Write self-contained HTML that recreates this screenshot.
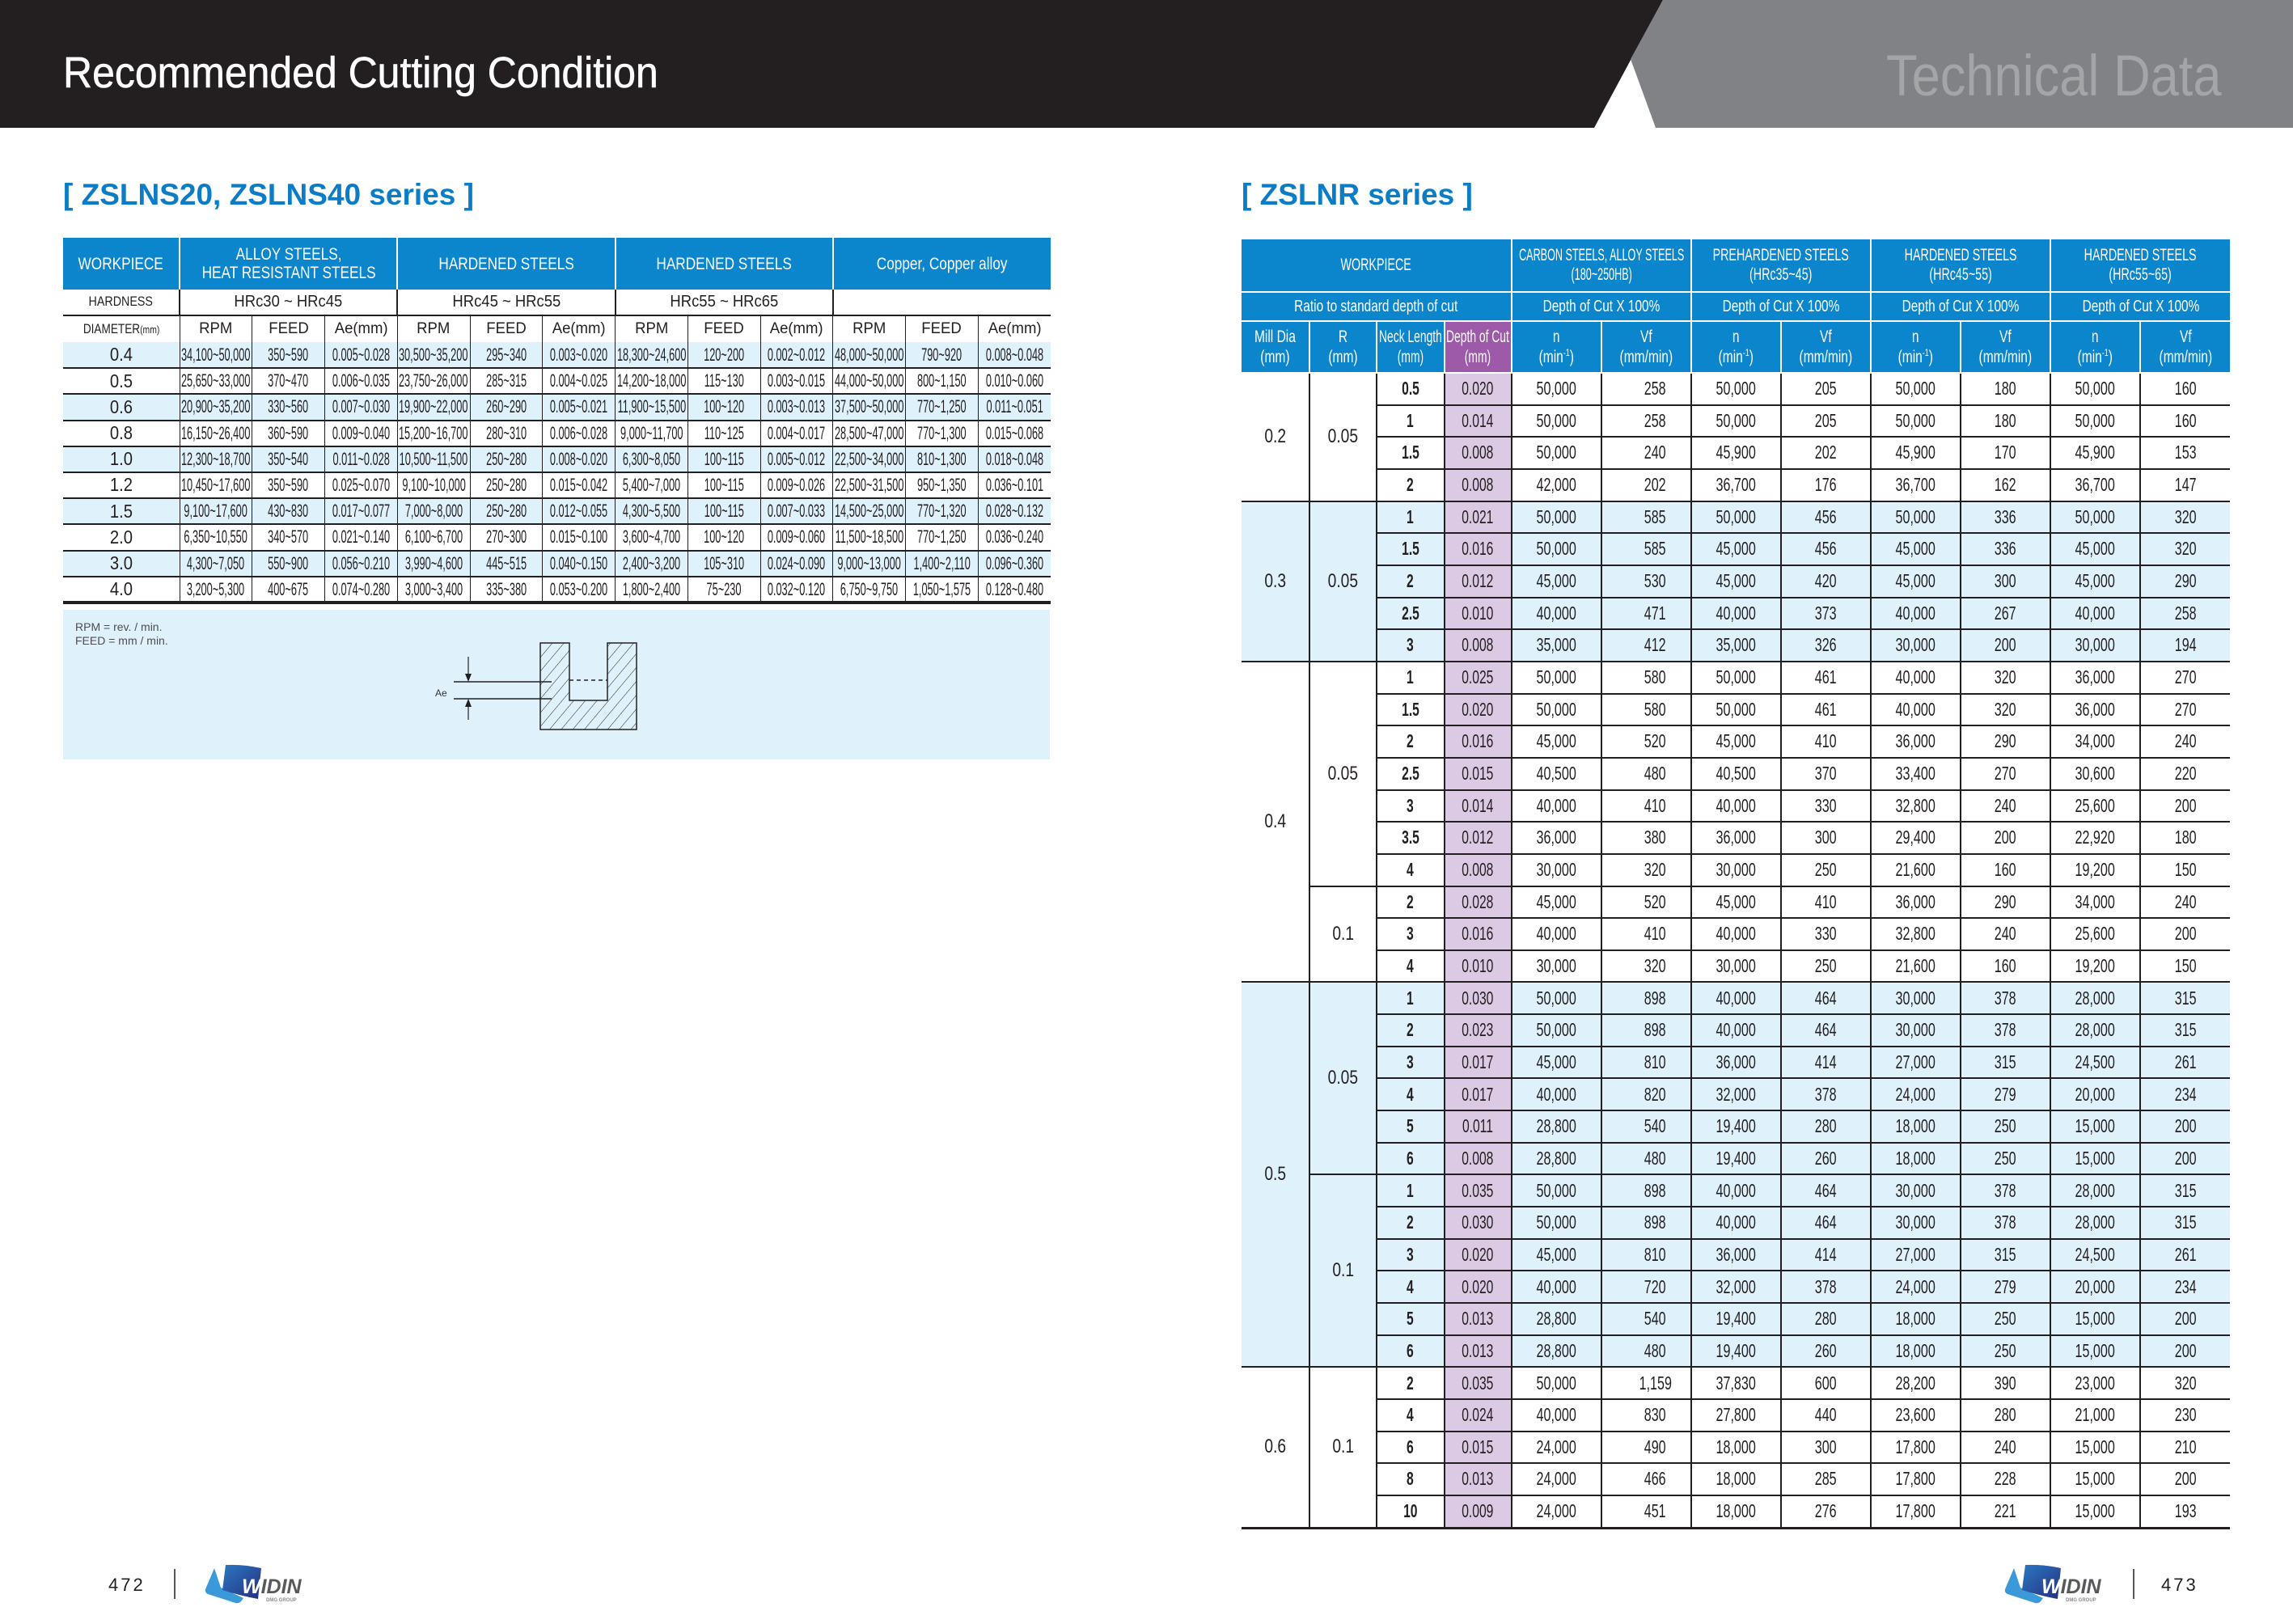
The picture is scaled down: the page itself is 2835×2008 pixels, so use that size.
<!DOCTYPE html>
<html><head><meta charset="utf-8">
<style>
*{margin:0;padding:0;box-sizing:border-box}
body{width:2835px;height:2008px;position:relative;background:#fff;font-family:"Liberation Sans",Arial,sans-serif;color:#231f20;overflow:hidden}
.abs{position:absolute}
i{font-style:normal;display:inline-block;white-space:nowrap;margin:0 -80px;transform:scaleX(var(--s,1))}
table{border-collapse:collapse;table-layout:fixed;position:absolute}
td{padding:0;text-align:center;vertical-align:middle;white-space:nowrap;overflow:visible;border:0}
sup{font-size:12px;line-height:0;vertical-align:8px}
/* left table */
#lt td{font-size:22px;--s:.58;line-height:1.1}
#lt .h1 td{background:#0b86cc;color:#fff;font-size:21px;--s:.82;line-height:23px;border-left:2px solid #fff}
#lt .h1 td:first-child{border-left:0}
#lt .h2 td{font-size:20.5px;--s:.9;border-left:2px solid #231f20;border-bottom:2px solid #231f20}
#lt .h2 td:first-child{border-left:0;font-size:17px;--s:.84}
#lt .h3 td{font-size:19.5px;--s:.95;border-left:1.5px solid #231f20}
#lt .h3 td:first-child{border-left:0;font-size:17px;--s:.8}
#lt .dt td{border-left:1.5px solid #231f20;border-bottom:2px solid #231f20}
#lt .dt td:first-child{border-left:0;font-size:23px;--s:.88}
#lt .dt tr.b td{background:#dff2fc}
#lt .dt tr{height:32.2px}
/* right table */
#rt td{font-size:23px;--s:.7;line-height:1.1}
#rt .hd td{background:#0b86cc;color:#fff;border-left:2px solid #fff;border-bottom:2px solid #fff;font-size:21px}
#rt .hd td:first-child{border-left:0}
#rt .h1 td{--s:.68;line-height:24px}
#rt .h1 td.cs{--s:.6}
#rt .h2 td{font-size:20px;--s:.77}
#rt .h3 td{--s:.74;line-height:25px}
#rt .h3 td.nl{--s:.66}
#rt .h3 td.pp{background:#9d5aa8;--s:.66}
#rt .dt td{border-left:2px solid #231f20;border-bottom:2px solid #231f20}
#rt .dt td.m{border-left:0;font-size:24px;--s:.8}
#rt .dt td.r{font-size:24px;--s:.8}
#rt .dt td.k{font-weight:bold;--s:.68}
#rt .dt td.p{background:#dccae4;--s:.68}
#rt .dt td.v{padding-left:22px}
#rt .dt tr.b td{background:#dff2fc}
#rt .dt tr.b td.p{background:#dccae4}
#rt .dt tr{height:39.67px}
</style></head>
<body>
<svg class="abs" style="left:0;top:0" width="2835" height="2008">
<defs>
<pattern id="hat" width="11" height="11" patternUnits="userSpaceOnUse" patternTransform="rotate(40)"><line x1="0" y1="0" x2="0" y2="11" stroke="#231f20" stroke-width="1"/></pattern>
<linearGradient id="lg" x1="0" y1="0" x2="1" y2="1"><stop offset="0" stop-color="#2a78c4"/><stop offset="1" stop-color="#262f7c"/></linearGradient>
<linearGradient id="lg2" x1="0" y1="0" x2="1" y2="1"><stop offset="0" stop-color="#2a78c4"/><stop offset="1" stop-color="#262f7c"/></linearGradient>
</defs>
<polygon points="0,0 2056,0 1971,158 0,158" fill="#231f20"/>
<polygon points="2056,0 2835,0 2835,158 2047,158 2016,73" fill="#808285"/>
<rect x="78" y="754" width="1220" height="185" fill="#dff2fc"/>
<path d="M668,795 H704 V866 H751 V795 H787 V902 H668 Z" fill="url(#hat)" stroke="#231f20" stroke-width="1.5"/>
<line x1="704" y1="841" x2="751" y2="841" stroke="#231f20" stroke-width="1.5" stroke-dasharray="5,4"/>
<line x1="561" y1="843" x2="682" y2="843" stroke="#231f20" stroke-width="1.5"/>
<line x1="561" y1="864" x2="682" y2="864" stroke="#231f20" stroke-width="1.5"/>
<line x1="579" y1="812" x2="579" y2="836" stroke="#231f20" stroke-width="1.2"/>
<polygon points="575,833 583,833 579,843" fill="#231f20"/>
<line x1="579" y1="871" x2="579" y2="890" stroke="#231f20" stroke-width="1.2"/>
<polygon points="575,874 583,874 579,864" fill="#231f20"/>
<text x="538" y="861" font-size="12" fill="#333" font-family="Liberation Sans, sans-serif">Ae</text>
<line x1="216" y1="1940" x2="216" y2="1977" stroke="#231f20" stroke-width="1.5"/>
<line x1="2638" y1="1940" x2="2638" y2="1977" stroke="#231f20" stroke-width="1.5"/>
<g transform="translate(253,1933)">
<path d="M12,6 L1,32 Q0,36 4,38 L38,49 Q42,50 45,47 L48,43 L20,30 Z" fill="#3a9ad9"/>
<path d="M26,2 Q48,1 70,6 L66,44 Q44,40 22,33 Z" fill="url(#lg)"/>
<text x="46" y="37" font-size="25" font-weight="bold" font-style="italic" fill="#58595b" font-family="Liberation Sans, sans-serif"><tspan fill="#ffffff">W</tspan>IDIN</text>
<text x="76" y="47" font-size="6" font-weight="bold" fill="#8a8c8e" font-family="Liberation Sans, sans-serif">DMG GROUP</text>
</g>
<g transform="translate(2478,1933)">
<path d="M12,6 L1,32 Q0,36 4,38 L38,49 Q42,50 45,47 L48,43 L20,30 Z" fill="#3a9ad9"/>
<path d="M26,2 Q48,1 70,6 L66,44 Q44,40 22,33 Z" fill="url(#lg2)"/>
<text x="46" y="37" font-size="25" font-weight="bold" font-style="italic" fill="#58595b" font-family="Liberation Sans, sans-serif"><tspan fill="#ffffff">W</tspan>IDIN</text>
<text x="76" y="47" font-size="6" font-weight="bold" fill="#8a8c8e" font-family="Liberation Sans, sans-serif">DMG GROUP</text>
</g>
</svg>

<div class="abs" style="left:78px;top:63px;font-size:54px;line-height:54px;color:#fff;transform:scaleX(.925);transform-origin:0 0;white-space:nowrap;-webkit-text-stroke:0.6px #fff">Recommended Cutting Condition</div>
<div class="abs" style="left:2332px;top:59px;font-size:71px;line-height:71px;color:#a3a5a7;transform:scaleX(.89);transform-origin:0 0;white-space:nowrap">Technical Data</div>

<div class="abs" style="left:78px;top:222px;font-size:37px;line-height:37px;font-weight:bold;color:#0b7dc6;white-space:nowrap">[ ZSLNS20, ZSLNS40 series ]</div>
<div class="abs" style="left:1535px;top:222px;font-size:37px;line-height:37px;font-weight:bold;color:#0b7dc6;white-space:nowrap">[ ZSLNR series ]</div>

<div class="abs" style="left:93px;top:767px;font-size:14px;line-height:17px;color:#4d4d4f;white-space:nowrap">RPM = rev. / min.<br>FEED = mm / min.</div>

<div class="abs" style="left:134px;top:1949px;font-size:22px;line-height:22px;letter-spacing:3px;color:#231f20">472</div>
<div class="abs" style="left:2672px;top:1949px;font-size:22px;line-height:22px;letter-spacing:3px;color:#231f20">473</div>

<table id="lt" style="left:78px;top:294px;width:1221px">
<colgroup><col style="width:144px"><col span="12" style="width:89.75px"></colgroup>
<tbody>
<tr class="h1" style="height:64px"><td><i>WORKPIECE</i></td><td colspan="3"><i>ALLOY STEELS,<br>HEAT RESISTANT STEELS</i></td><td colspan="3"><i>HARDENED STEELS</i></td><td colspan="3"><i>HARDENED STEELS</i></td><td colspan="3"><i>Copper, Copper alloy</i></td></tr>
<tr class="h2" style="height:32px"><td><i>HARDNESS</i></td><td colspan="3"><i>HRc30 ~ HRc45</i></td><td colspan="3"><i>HRc45 ~ HRc55</i></td><td colspan="3"><i>HRc55 ~ HRc65</i></td><td colspan="3"></td></tr>
<tr class="h3" style="height:33px"><td><i>DIAMETER<span style="font-size:13px">(mm)</span></i></td><td><i>RPM</i></td><td><i>FEED</i></td><td><i>Ae(mm)</i></td><td><i>RPM</i></td><td><i>FEED</i></td><td><i>Ae(mm)</i></td><td><i>RPM</i></td><td><i>FEED</i></td><td><i>Ae(mm)</i></td><td><i>RPM</i></td><td><i>FEED</i></td><td><i>Ae(mm)</i></td></tr>
</tbody>
<tbody class="dt">
<tr class="b"><td><i>0.4</i></td><td><i>34,100~50,000</i></td><td><i>350~590</i></td><td><i>0.005~0.028</i></td><td><i>30,500~35,200</i></td><td><i>295~340</i></td><td><i>0.003~0.020</i></td><td><i>18,300~24,600</i></td><td><i>120~200</i></td><td><i>0.002~0.012</i></td><td><i>48,000~50,000</i></td><td><i>790~920</i></td><td><i>0.008~0.048</i></td></tr>
<tr><td><i>0.5</i></td><td><i>25,650~33,000</i></td><td><i>370~470</i></td><td><i>0.006~0.035</i></td><td><i>23,750~26,000</i></td><td><i>285~315</i></td><td><i>0.004~0.025</i></td><td><i>14,200~18,000</i></td><td><i>115~130</i></td><td><i>0.003~0.015</i></td><td><i>44,000~50,000</i></td><td><i>800~1,150</i></td><td><i>0.010~0.060</i></td></tr>
<tr class="b"><td><i>0.6</i></td><td><i>20,900~35,200</i></td><td><i>330~560</i></td><td><i>0.007~0.030</i></td><td><i>19,900~22,000</i></td><td><i>260~290</i></td><td><i>0.005~0.021</i></td><td><i>11,900~15,500</i></td><td><i>100~120</i></td><td><i>0.003~0.013</i></td><td><i>37,500~50,000</i></td><td><i>770~1,250</i></td><td><i>0.011~0.051</i></td></tr>
<tr><td><i>0.8</i></td><td><i>16,150~26,400</i></td><td><i>360~590</i></td><td><i>0.009~0.040</i></td><td><i>15,200~16,700</i></td><td><i>280~310</i></td><td><i>0.006~0.028</i></td><td><i>9,000~11,700</i></td><td><i>110~125</i></td><td><i>0.004~0.017</i></td><td><i>28,500~47,000</i></td><td><i>770~1,300</i></td><td><i>0.015~0.068</i></td></tr>
<tr class="b"><td><i>1.0</i></td><td><i>12,300~18,700</i></td><td><i>350~540</i></td><td><i>0.011~0.028</i></td><td><i>10,500~11,500</i></td><td><i>250~280</i></td><td><i>0.008~0.020</i></td><td><i>6,300~8,050</i></td><td><i>100~115</i></td><td><i>0.005~0.012</i></td><td><i>22,500~34,000</i></td><td><i>810~1,300</i></td><td><i>0.018~0.048</i></td></tr>
<tr><td><i>1.2</i></td><td><i>10,450~17,600</i></td><td><i>350~590</i></td><td><i>0.025~0.070</i></td><td><i>9,100~10,000</i></td><td><i>250~280</i></td><td><i>0.015~0.042</i></td><td><i>5,400~7,000</i></td><td><i>100~115</i></td><td><i>0.009~0.026</i></td><td><i>22,500~31,500</i></td><td><i>950~1,350</i></td><td><i>0.036~0.101</i></td></tr>
<tr class="b"><td><i>1.5</i></td><td><i>9,100~17,600</i></td><td><i>430~830</i></td><td><i>0.017~0.077</i></td><td><i>7,000~8,000</i></td><td><i>250~280</i></td><td><i>0.012~0.055</i></td><td><i>4,300~5,500</i></td><td><i>100~115</i></td><td><i>0.007~0.033</i></td><td><i>14,500~25,000</i></td><td><i>770~1,320</i></td><td><i>0.028~0.132</i></td></tr>
<tr><td><i>2.0</i></td><td><i>6,350~10,550</i></td><td><i>340~570</i></td><td><i>0.021~0.140</i></td><td><i>6,100~6,700</i></td><td><i>270~300</i></td><td><i>0.015~0.100</i></td><td><i>3,600~4,700</i></td><td><i>100~120</i></td><td><i>0.009~0.060</i></td><td><i>11,500~18,500</i></td><td><i>770~1,250</i></td><td><i>0.036~0.240</i></td></tr>
<tr class="b"><td><i>3.0</i></td><td><i>4,300~7,050</i></td><td><i>550~900</i></td><td><i>0.056~0.210</i></td><td><i>3,990~4,600</i></td><td><i>445~515</i></td><td><i>0.040~0.150</i></td><td><i>2,400~3,200</i></td><td><i>105~310</i></td><td><i>0.024~0.090</i></td><td><i>9,000~13,000</i></td><td><i>1,400~2,110</i></td><td><i>0.096~0.360</i></td></tr>
<tr><td><i>4.0</i></td><td><i>3,200~5,300</i></td><td><i>400~675</i></td><td><i>0.074~0.280</i></td><td><i>3,000~3,400</i></td><td><i>335~380</i></td><td><i>0.053~0.200</i></td><td><i>1,800~2,400</i></td><td><i>75~230</i></td><td><i>0.032~0.120</i></td><td><i>6,750~9,750</i></td><td><i>1,050~1,575</i></td><td><i>0.128~0.480</i></td></tr>
</tbody>
</table>
<div class="abs" style="left:78px;top:743px;width:1221px;height:4px;background:#231f20"></div>

<table id="rt" style="left:1535px;top:296px;width:1222px">
<colgroup><col style="width:83.5px"><col style="width:83.5px"><col style="width:83.5px"><col style="width:83.5px"><col span="8" style="width:111px"></colgroup>
<tbody class="hd">
<tr class="h1" style="height:65px"><td colspan="4"><i>WORKPIECE</i></td><td colspan="2" class="cs"><i>CARBON STEELS, ALLOY STEELS<br>(180~250HB)</i></td><td colspan="2"><i>PREHARDENED STEELS<br>(HRc35~45)</i></td><td colspan="2"><i>HARDENED STEELS<br>(HRc45~55)</i></td><td colspan="2"><i>HARDENED STEELS<br>(HRc55~65)</i></td></tr>
<tr class="h2" style="height:36px"><td colspan="4"><i>Ratio to standard depth of cut</i></td><td colspan="2"><i>Depth of Cut X 100%</i></td><td colspan="2"><i>Depth of Cut X 100%</i></td><td colspan="2"><i>Depth of Cut X 100%</i></td><td colspan="2"><i>Depth of Cut X 100%</i></td></tr>
<tr class="h3" style="height:64px"><td><i>Mill Dia<br>(mm)</i></td><td><i>R<br>(mm)</i></td><td class="nl"><i>Neck Length<br>(mm)</i></td><td class="pp"><i>Depth of Cut<br>(mm)</i></td><td><i>n<br>(min<sup>-1</sup>)</i></td><td><i>Vf<br>(mm/min)</i></td><td><i>n<br>(min<sup>-1</sup>)</i></td><td><i>Vf<br>(mm/min)</i></td><td><i>n<br>(min<sup>-1</sup>)</i></td><td><i>Vf<br>(mm/min)</i></td><td><i>n<br>(min<sup>-1</sup>)</i></td><td><i>Vf<br>(mm/min)</i></td></tr>
</tbody>
<tbody class="dt">
<tr><td class="m" rowspan="4"><i>0.2</i></td><td class="r" rowspan="4"><i>0.05</i></td><td class="k"><i>0.5</i></td><td class="p"><i>0.020</i></td><td><i>50,000</i></td><td class="v"><i>258</i></td><td><i>50,000</i></td><td><i>205</i></td><td><i>50,000</i></td><td><i>180</i></td><td><i>50,000</i></td><td><i>160</i></td></tr>
<tr><td class="k"><i>1</i></td><td class="p"><i>0.014</i></td><td><i>50,000</i></td><td class="v"><i>258</i></td><td><i>50,000</i></td><td><i>205</i></td><td><i>50,000</i></td><td><i>180</i></td><td><i>50,000</i></td><td><i>160</i></td></tr>
<tr><td class="k"><i>1.5</i></td><td class="p"><i>0.008</i></td><td><i>50,000</i></td><td class="v"><i>240</i></td><td><i>45,900</i></td><td><i>202</i></td><td><i>45,900</i></td><td><i>170</i></td><td><i>45,900</i></td><td><i>153</i></td></tr>
<tr><td class="k"><i>2</i></td><td class="p"><i>0.008</i></td><td><i>42,000</i></td><td class="v"><i>202</i></td><td><i>36,700</i></td><td><i>176</i></td><td><i>36,700</i></td><td><i>162</i></td><td><i>36,700</i></td><td><i>147</i></td></tr>
<tr class="b"><td class="m" rowspan="5"><i>0.3</i></td><td class="r" rowspan="5"><i>0.05</i></td><td class="k"><i>1</i></td><td class="p"><i>0.021</i></td><td><i>50,000</i></td><td class="v"><i>585</i></td><td><i>50,000</i></td><td><i>456</i></td><td><i>50,000</i></td><td><i>336</i></td><td><i>50,000</i></td><td><i>320</i></td></tr>
<tr class="b"><td class="k"><i>1.5</i></td><td class="p"><i>0.016</i></td><td><i>50,000</i></td><td class="v"><i>585</i></td><td><i>45,000</i></td><td><i>456</i></td><td><i>45,000</i></td><td><i>336</i></td><td><i>45,000</i></td><td><i>320</i></td></tr>
<tr class="b"><td class="k"><i>2</i></td><td class="p"><i>0.012</i></td><td><i>45,000</i></td><td class="v"><i>530</i></td><td><i>45,000</i></td><td><i>420</i></td><td><i>45,000</i></td><td><i>300</i></td><td><i>45,000</i></td><td><i>290</i></td></tr>
<tr class="b"><td class="k"><i>2.5</i></td><td class="p"><i>0.010</i></td><td><i>40,000</i></td><td class="v"><i>471</i></td><td><i>40,000</i></td><td><i>373</i></td><td><i>40,000</i></td><td><i>267</i></td><td><i>40,000</i></td><td><i>258</i></td></tr>
<tr class="b"><td class="k"><i>3</i></td><td class="p"><i>0.008</i></td><td><i>35,000</i></td><td class="v"><i>412</i></td><td><i>35,000</i></td><td><i>326</i></td><td><i>30,000</i></td><td><i>200</i></td><td><i>30,000</i></td><td><i>194</i></td></tr>
<tr><td class="m" rowspan="10"><i>0.4</i></td><td class="r" rowspan="7"><i>0.05</i></td><td class="k"><i>1</i></td><td class="p"><i>0.025</i></td><td><i>50,000</i></td><td class="v"><i>580</i></td><td><i>50,000</i></td><td><i>461</i></td><td><i>40,000</i></td><td><i>320</i></td><td><i>36,000</i></td><td><i>270</i></td></tr>
<tr><td class="k"><i>1.5</i></td><td class="p"><i>0.020</i></td><td><i>50,000</i></td><td class="v"><i>580</i></td><td><i>50,000</i></td><td><i>461</i></td><td><i>40,000</i></td><td><i>320</i></td><td><i>36,000</i></td><td><i>270</i></td></tr>
<tr><td class="k"><i>2</i></td><td class="p"><i>0.016</i></td><td><i>45,000</i></td><td class="v"><i>520</i></td><td><i>45,000</i></td><td><i>410</i></td><td><i>36,000</i></td><td><i>290</i></td><td><i>34,000</i></td><td><i>240</i></td></tr>
<tr><td class="k"><i>2.5</i></td><td class="p"><i>0.015</i></td><td><i>40,500</i></td><td class="v"><i>480</i></td><td><i>40,500</i></td><td><i>370</i></td><td><i>33,400</i></td><td><i>270</i></td><td><i>30,600</i></td><td><i>220</i></td></tr>
<tr><td class="k"><i>3</i></td><td class="p"><i>0.014</i></td><td><i>40,000</i></td><td class="v"><i>410</i></td><td><i>40,000</i></td><td><i>330</i></td><td><i>32,800</i></td><td><i>240</i></td><td><i>25,600</i></td><td><i>200</i></td></tr>
<tr><td class="k"><i>3.5</i></td><td class="p"><i>0.012</i></td><td><i>36,000</i></td><td class="v"><i>380</i></td><td><i>36,000</i></td><td><i>300</i></td><td><i>29,400</i></td><td><i>200</i></td><td><i>22,920</i></td><td><i>180</i></td></tr>
<tr><td class="k"><i>4</i></td><td class="p"><i>0.008</i></td><td><i>30,000</i></td><td class="v"><i>320</i></td><td><i>30,000</i></td><td><i>250</i></td><td><i>21,600</i></td><td><i>160</i></td><td><i>19,200</i></td><td><i>150</i></td></tr>
<tr><td class="r" rowspan="3"><i>0.1</i></td><td class="k"><i>2</i></td><td class="p"><i>0.028</i></td><td><i>45,000</i></td><td class="v"><i>520</i></td><td><i>45,000</i></td><td><i>410</i></td><td><i>36,000</i></td><td><i>290</i></td><td><i>34,000</i></td><td><i>240</i></td></tr>
<tr><td class="k"><i>3</i></td><td class="p"><i>0.016</i></td><td><i>40,000</i></td><td class="v"><i>410</i></td><td><i>40,000</i></td><td><i>330</i></td><td><i>32,800</i></td><td><i>240</i></td><td><i>25,600</i></td><td><i>200</i></td></tr>
<tr><td class="k"><i>4</i></td><td class="p"><i>0.010</i></td><td><i>30,000</i></td><td class="v"><i>320</i></td><td><i>30,000</i></td><td><i>250</i></td><td><i>21,600</i></td><td><i>160</i></td><td><i>19,200</i></td><td><i>150</i></td></tr>
<tr class="b"><td class="m" rowspan="12"><i>0.5</i></td><td class="r" rowspan="6"><i>0.05</i></td><td class="k"><i>1</i></td><td class="p"><i>0.030</i></td><td><i>50,000</i></td><td class="v"><i>898</i></td><td><i>40,000</i></td><td><i>464</i></td><td><i>30,000</i></td><td><i>378</i></td><td><i>28,000</i></td><td><i>315</i></td></tr>
<tr class="b"><td class="k"><i>2</i></td><td class="p"><i>0.023</i></td><td><i>50,000</i></td><td class="v"><i>898</i></td><td><i>40,000</i></td><td><i>464</i></td><td><i>30,000</i></td><td><i>378</i></td><td><i>28,000</i></td><td><i>315</i></td></tr>
<tr class="b"><td class="k"><i>3</i></td><td class="p"><i>0.017</i></td><td><i>45,000</i></td><td class="v"><i>810</i></td><td><i>36,000</i></td><td><i>414</i></td><td><i>27,000</i></td><td><i>315</i></td><td><i>24,500</i></td><td><i>261</i></td></tr>
<tr class="b"><td class="k"><i>4</i></td><td class="p"><i>0.017</i></td><td><i>40,000</i></td><td class="v"><i>820</i></td><td><i>32,000</i></td><td><i>378</i></td><td><i>24,000</i></td><td><i>279</i></td><td><i>20,000</i></td><td><i>234</i></td></tr>
<tr class="b"><td class="k"><i>5</i></td><td class="p"><i>0.011</i></td><td><i>28,800</i></td><td class="v"><i>540</i></td><td><i>19,400</i></td><td><i>280</i></td><td><i>18,000</i></td><td><i>250</i></td><td><i>15,000</i></td><td><i>200</i></td></tr>
<tr class="b"><td class="k"><i>6</i></td><td class="p"><i>0.008</i></td><td><i>28,800</i></td><td class="v"><i>480</i></td><td><i>19,400</i></td><td><i>260</i></td><td><i>18,000</i></td><td><i>250</i></td><td><i>15,000</i></td><td><i>200</i></td></tr>
<tr class="b"><td class="r" rowspan="6"><i>0.1</i></td><td class="k"><i>1</i></td><td class="p"><i>0.035</i></td><td><i>50,000</i></td><td class="v"><i>898</i></td><td><i>40,000</i></td><td><i>464</i></td><td><i>30,000</i></td><td><i>378</i></td><td><i>28,000</i></td><td><i>315</i></td></tr>
<tr class="b"><td class="k"><i>2</i></td><td class="p"><i>0.030</i></td><td><i>50,000</i></td><td class="v"><i>898</i></td><td><i>40,000</i></td><td><i>464</i></td><td><i>30,000</i></td><td><i>378</i></td><td><i>28,000</i></td><td><i>315</i></td></tr>
<tr class="b"><td class="k"><i>3</i></td><td class="p"><i>0.020</i></td><td><i>45,000</i></td><td class="v"><i>810</i></td><td><i>36,000</i></td><td><i>414</i></td><td><i>27,000</i></td><td><i>315</i></td><td><i>24,500</i></td><td><i>261</i></td></tr>
<tr class="b"><td class="k"><i>4</i></td><td class="p"><i>0.020</i></td><td><i>40,000</i></td><td class="v"><i>720</i></td><td><i>32,000</i></td><td><i>378</i></td><td><i>24,000</i></td><td><i>279</i></td><td><i>20,000</i></td><td><i>234</i></td></tr>
<tr class="b"><td class="k"><i>5</i></td><td class="p"><i>0.013</i></td><td><i>28,800</i></td><td class="v"><i>540</i></td><td><i>19,400</i></td><td><i>280</i></td><td><i>18,000</i></td><td><i>250</i></td><td><i>15,000</i></td><td><i>200</i></td></tr>
<tr class="b"><td class="k"><i>6</i></td><td class="p"><i>0.013</i></td><td><i>28,800</i></td><td class="v"><i>480</i></td><td><i>19,400</i></td><td><i>260</i></td><td><i>18,000</i></td><td><i>250</i></td><td><i>15,000</i></td><td><i>200</i></td></tr>
<tr><td class="m" rowspan="5"><i>0.6</i></td><td class="r" rowspan="5"><i>0.1</i></td><td class="k"><i>2</i></td><td class="p"><i>0.035</i></td><td><i>50,000</i></td><td class="v"><i>1,159</i></td><td><i>37,830</i></td><td><i>600</i></td><td><i>28,200</i></td><td><i>390</i></td><td><i>23,000</i></td><td><i>320</i></td></tr>
<tr><td class="k"><i>4</i></td><td class="p"><i>0.024</i></td><td><i>40,000</i></td><td class="v"><i>830</i></td><td><i>27,800</i></td><td><i>440</i></td><td><i>23,600</i></td><td><i>280</i></td><td><i>21,000</i></td><td><i>230</i></td></tr>
<tr><td class="k"><i>6</i></td><td class="p"><i>0.015</i></td><td><i>24,000</i></td><td class="v"><i>490</i></td><td><i>18,000</i></td><td><i>300</i></td><td><i>17,800</i></td><td><i>240</i></td><td><i>15,000</i></td><td><i>210</i></td></tr>
<tr><td class="k"><i>8</i></td><td class="p"><i>0.013</i></td><td><i>24,000</i></td><td class="v"><i>466</i></td><td><i>18,000</i></td><td><i>285</i></td><td><i>17,800</i></td><td><i>228</i></td><td><i>15,000</i></td><td><i>200</i></td></tr>
<tr><td class="k"><i>10</i></td><td class="p"><i>0.009</i></td><td><i>24,000</i></td><td class="v"><i>451</i></td><td><i>18,000</i></td><td><i>276</i></td><td><i>17,800</i></td><td><i>221</i></td><td><i>15,000</i></td><td><i>193</i></td></tr>
</tbody>
</table>
<div class="abs" style="left:1535px;top:1888px;width:1222px;height:3px;background:#231f20"></div>
</body></html>
